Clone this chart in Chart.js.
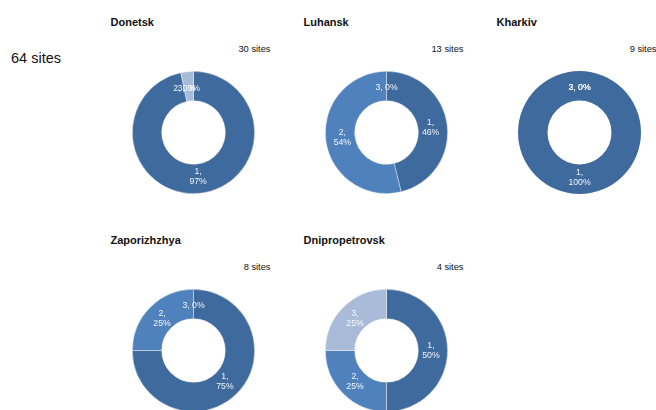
<!DOCTYPE html>
<html>
<head>
<meta charset="utf-8">
<title>Sites by region</title>
<script src="https://cdn.jsdelivr.net/npm/chart.js@4/dist/chart.umd.min.js"></script>
<style>
  html, body { margin: 0; padding: 0; background: #fff; }
  body { width: 656px; height: 410px; position: relative; overflow: hidden;
         font-family: "Liberation Sans", Arial, sans-serif; color: #111; }
  .abs { position: absolute; white-space: nowrap; }
  .total { left: 11px; top: 51px; font-size: 14.5px; line-height: 14.5px; }
  .title { font-size: 11px; line-height: 11px; font-weight: bold; }
  .count { font-size: 9.3px; line-height: 9.3px; text-align: right; width: 80px; }
  canvas { position: absolute; }
</style>
</head>
<body>
<script>
// Regions and site counts per category (1, 2, 3)
const regions = ['Donetsk', 'Luhansk', 'Kharkiv', 'Zaporizhzhya', 'Dnipropetrovsk'];
const categories = ['1', '2', '3'];
const cat1Sites = [29, 6, 9, 6, 2];
const cat2Sites = [0, 7, 0, 2, 1];
const cat3Sites = [1, 0, 0, 0, 1];
const categoryColors = ['#3f6a9e', '#4f81bd', '#a9bbd9'];

// Grid layout of the small multiples
const colX = [110.5, 303.5, 496.5];
const rowY = [0, 218];
const panelWidth = 160;

const sliceLabels = {
  id: 'sliceLabels',
  afterDatasetsDraw(chart) {
    const { ctx } = chart;
    const meta = chart.getDatasetMeta(0);
    const data = chart.data.datasets[0].data;
    const names = chart.data.labels;
    const total = data.reduce((a, b) => a + b, 0);
    ctx.save();
    ctx.font = '8.7px "Liberation Sans", Arial, sans-serif';
    ctx.fillStyle = 'rgba(255,255,255,0.93)';
    ctx.textAlign = 'center';
    ctx.textBaseline = 'middle';
    meta.data.forEach((arc, i) => {
      const p = arc.getProps(['startAngle', 'endAngle', 'innerRadius', 'outerRadius', 'x', 'y'], true);
      const mid = (p.startAngle + p.endAngle) / 2;
      const r = (p.innerRadius + p.outerRadius) / 2 - 2;
      const lx = p.x + Math.cos(mid) * r;
      const ly = p.y + Math.sin(mid) * r;
      const pct = Math.round(data[i] / total * 100);
      const full = names[i] + ', ' + pct + '%';
      const lines = ctx.measureText(full).width > 25 ? [names[i] + ',', pct + '%'] : [full];
      const lh = 10;
      lines.forEach((t, k) => ctx.fillText(t, lx, ly + (k - (lines.length - 1) / 2) * lh));
    });
    ctx.restore();
  }
};

function addText(cls, text, left, top) {
  const d = document.createElement('div');
  d.className = 'abs ' + cls;
  d.textContent = text;
  d.style.left = left + 'px';
  d.style.top = top + 'px';
  document.body.appendChild(d);
  return d;
}

const regionTotals = regions.map((_, i) => cat1Sites[i] + cat2Sites[i] + cat3Sites[i]);
const grandTotal = regionTotals.reduce((a, b) => a + b, 0);
addText('total', grandTotal + ' sites', 11, 51);

regions.forEach((name, i) => {
  const col = i % 3, row = Math.floor(i / 3);
  const x0 = colX[col], y0 = rowY[row];
  addText('title', name, x0, y0 + 16.7);
  addText('count', regionTotals[i] + ' sites', x0 + panelWidth - 80, y0 + 45.2);

  const size = 123;
  const cx = x0 + 83, cy = y0 + 132.5;
  const canvas = document.createElement('canvas');
  canvas.width = size;
  canvas.height = size;
  canvas.style.left = (cx - size / 2) + 'px';
  canvas.style.top = (cy - size / 2) + 'px';
  canvas.style.width = size + 'px';
  canvas.style.height = size + 'px';
  document.body.appendChild(canvas);

  const values = [cat1Sites[i], cat2Sites[i], cat3Sites[i]];
  const total = regionTotals[i];
  new Chart(canvas, {
    type: 'doughnut',
    data: {
      labels: categories,
      datasets: [{
        data: values,
        backgroundColor: categoryColors,
        borderColor: 'rgba(255,255,255,0.55)',
        borderWidth: c => (c.raw > 0 && c.raw < total) ? 0.7 : 0,
        hoverOffset: 0
      }]
    },
    options: {
      responsive: false,
      devicePixelRatio: 1,
      animation: false,
      cutout: '52%',
      layout: { padding: 0 },
      events: [],
      plugins: {
        legend: { display: false },
        tooltip: { enabled: false },
        title: { display: false }
      }
    },
    plugins: [sliceLabels]
  });
});
</script>
</body>
</html>
